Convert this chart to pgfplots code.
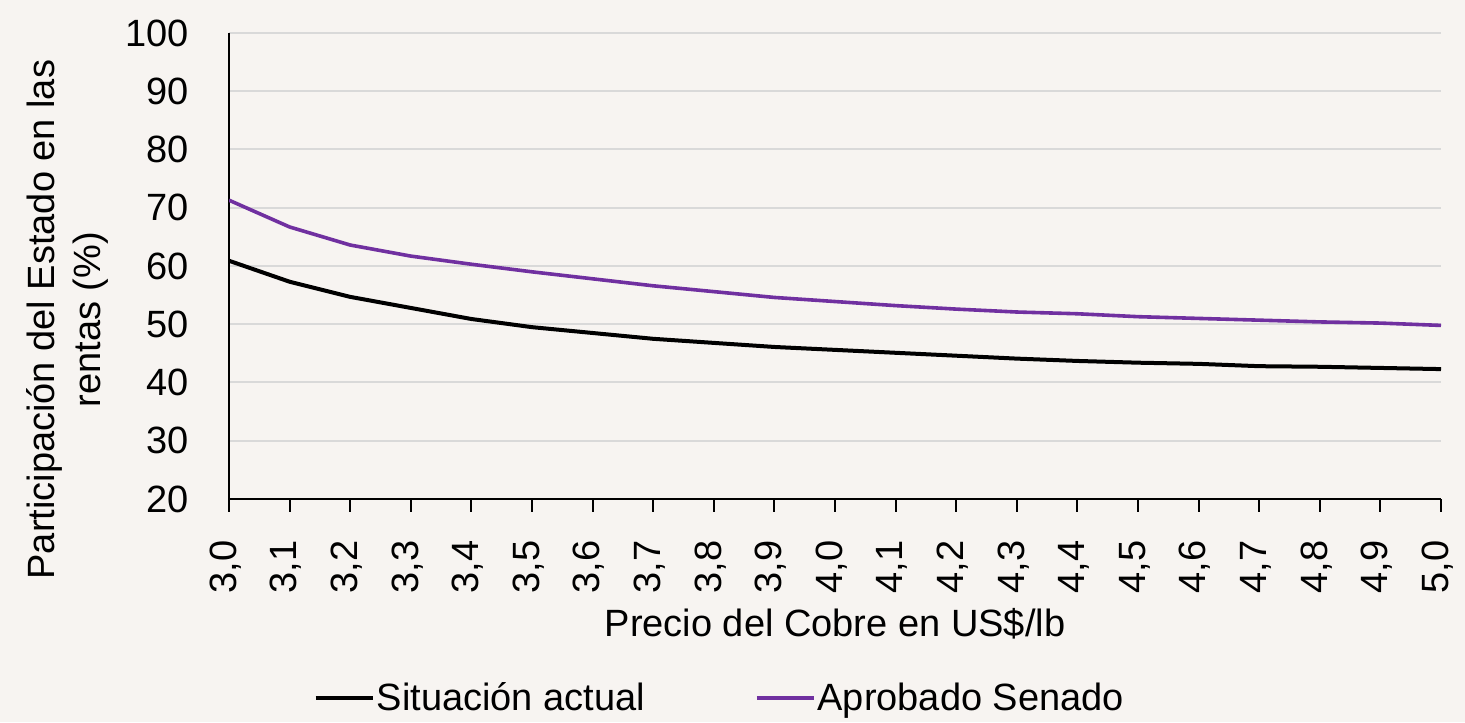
\documentclass[border=0pt]{standalone}
\usepackage{pgfplots}
\pgfplotsset{compat=1.18}
\usepackage{fontspec}
\setmainfont{Liberation Sans}
\definecolor{bg}{HTML}{F7F4F1}
\definecolor{gridc}{HTML}{D9D9D9}
\definecolor{purp}{HTML}{7030A0}
\begin{document}
\begin{tikzpicture}
\fill[bg] (0,0) rectangle (732.5pt,361pt);
\useasboundingbox (0,0) rectangle (732.5pt,361pt);
\begin{axis}[
  at={(114.5pt,111.5pt)}, anchor=south west,
  width=606pt, height=233pt, scale only axis,
  xmin=3, xmax=5, ymin=20, ymax=100,
  xtick={3.0,3.1,3.2,3.3,3.4,3.5,3.6,3.7,3.8,3.9,4.0,4.1,4.2,4.3,4.4,4.5,4.6,4.7,4.8,4.9,5.0},
  ytick={20,30,40,50,60,70,80,90,100},
  axis lines*=left,
  axis line style={black, line width=1pt},
  ymajorgrids, grid style={gridc, line width=1pt},
  ytick style={draw=none},
  xtick style={black, line width=1pt},
  tick align=outside, major tick length=6.5pt,
  font=\fontsize{19}{23}\selectfont,
  /pgf/number format/.cd, use comma, fixed, fixed zerofill, precision=1, assume math mode=true,
  /pgfplots/.cd,
  yticklabel style={/pgf/number format/precision=0, /pgf/number format/fixed zerofill=false, anchor=east, inner sep=0pt, xshift=-13.5pt},
  xticklabel style={rotate=90, anchor=east, inner sep=0pt, text height=0.72em, text depth=0pt, xshift=-14pt},
  xlabel={Precio del Cobre en US\$/lb},
  xlabel style={at={(axis description cs:0.5,0)}, anchor=center, yshift=-62.5pt},
  ylabel={Participación del Estado en las\\rentas (\%)},
  ylabel style={at={(axis description cs:-0.1337,0.385)}, anchor=center, align=center, rotate=0},
  legend columns=2,
  legend style={at={(axis description cs:0.405,-0.427)}, anchor=center, draw=none, fill=none,
    font=\fontsize{19}{23}\selectfont,
    nodes={inner sep=1pt},
    /tikz/every even column/.append style={column sep=54pt}},
  legend image code/.code={\draw[#1] (0pt,0pt) -- (28.5pt,0pt);},
]
\addplot[black, line width=2pt, mark=none] coordinates {
(3.0,60.9) (3.1,57.3) (3.2,54.7) (3.3,52.8) (3.4,50.9) (3.5,49.5) (3.6,48.5) (3.7,47.5)
(3.8,46.8) (3.9,46.1) (4.0,45.6) (4.1,45.1) (4.2,44.6) (4.3,44.1) (4.4,43.7) (4.5,43.4)
(4.6,43.2) (4.7,42.8) (4.8,42.7) (4.9,42.5) (5.0,42.3)};
\addlegendentry{Situación actual}
\addplot[purp, line width=1.8pt, mark=none] coordinates {
(3.0,71.3) (3.1,66.7) (3.2,63.6) (3.3,61.7) (3.4,60.3) (3.5,59.0) (3.6,57.8) (3.7,56.6)
(3.8,55.6) (3.9,54.6) (4.0,53.9) (4.1,53.2) (4.2,52.6) (4.3,52.1) (4.4,51.8) (4.5,51.3)
(4.6,51.0) (4.7,50.7) (4.8,50.4) (4.9,50.2) (5.0,49.8)};
\addlegendentry{Aprobado Senado}
\end{axis}
\end{tikzpicture}
\end{document}
